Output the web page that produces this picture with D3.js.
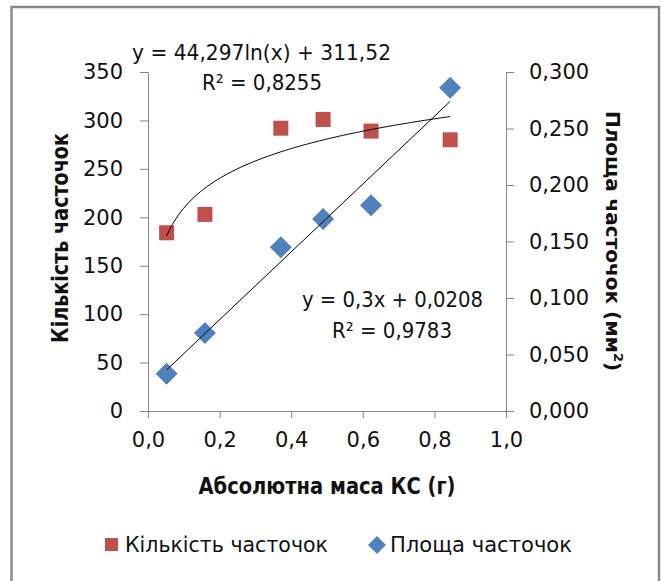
<!DOCTYPE html>
<html>
<head>
<meta charset="utf-8">
<script src="https://cdn.jsdelivr.net/npm/d3@7"></script>
<style>
  html, body { margin: 0; padding: 0; background: #fff; }
  svg { display: block; }
  text { font-family: "DejaVu Sans", sans-serif; fill: #111; }
</style>
</head>
<body>
<svg id="chart" width="661" height="581"></svg>
<script>
// ---- data ----
const massX      = [0.052, 0.159, 0.371, 0.489, 0.623, 0.844];
const countVals  = [184, 203, 292, 301, 289, 280];
const areaVals   = [0.033, 0.069, 0.145, 0.170, 0.182, 0.286];
const xTicks     = [0, 0.2, 0.4, 0.6, 0.8, 1.0];
const yLeftTicks = [0, 50, 100, 150, 200, 250, 300, 350];
const yRightTicks= [0, 0.05, 0.10, 0.15, 0.20, 0.25, 0.30];
const logCoef    = [44.297, 311.52];   // y = a ln(x) + b
const linCoef    = [0.3, 0.0208];      // y = a x + b
const eqLog      = ["y = 44,297ln(x) + 311,52", "R² = 0,8255"];
const eqLin      = ["y = 0,3x + 0,0208", "R² = 0,9783"];
const seriesNames= ["Кількість часточок", "Площа часточок"];
const xTitle     = "Абсолютна маса КС (г)";
const yLeftTitle = "Кількість часточок";
const yRightTitle= "Площа часточок (мм";

const svg = d3.select("#chart");
const comma = s => s.replace(".", ",");

// frame
svg.append("rect").attr("x", 11.5).attr("y", 7).attr("width", 647.5).attr("height", 600)
  .attr("fill", "#fff").attr("stroke", "#8a8a8a").attr("stroke-width", 2.5);

const x  = d3.scaleLinear().domain([0, 1]).range([148, 506]);
const yL = d3.scaleLinear().domain([0, 350]).range([411, 72]);
const yR = d3.scaleLinear().domain([0, 0.3]).range([411, 72]);

const axisColor = "#868686";
function styleAxis(g) {
  g.select(".domain").attr("stroke", axisColor);
  g.selectAll(".tick line").attr("stroke", axisColor);
  g.selectAll(".tick text").style("font-size", "21px").attr("fill", "#111")
    .attr("font-family", "DejaVu Sans");
}

svg.append("g").attr("transform", "translate(0,411)")
  .call(d3.axisBottom(x).tickValues(xTicks).tickSizeInner(7).tickSizeOuter(0).tickPadding(14)
        .tickFormat(d => comma(d3.format(".1f")(d))))
  .call(styleAxis);

svg.append("g").attr("transform", "translate(148,0)")
  .call(d3.axisLeft(yL).tickValues(yLeftTicks).tickSizeInner(8).tickSizeOuter(0).tickPadding(17)
        .tickFormat(d3.format("d")))
  .call(styleAxis);

svg.append("g").attr("transform", "translate(506,0)")
  .call(d3.axisRight(yR).tickValues(yRightTicks).tickSizeInner(8).tickSizeOuter(0).tickPadding(15)
        .tickFormat(d => comma(d3.format(".3f")(d))))
  .call(styleAxis);

// markers
const red = "#C0504D", blue = "#4F81BD";
const sq = 15, dm = 11;
svg.append("g").selectAll("rect").data(massX).join("rect")
  .attr("x", (d) => x(d) - sq / 2)
  .attr("y", (d, i) => yL(countVals[i]) - sq / 2)
  .attr("width", sq).attr("height", sq).attr("fill", red);

svg.append("g").selectAll("path").data(massX).join("path")
  .attr("d", (d, i) => {
    const cx = x(d), cy = yR(areaVals[i]);
    return `M${cx},${cy - dm}L${cx + dm},${cy}L${cx},${cy + dm}L${cx - dm},${cy}Z`;
  })
  .attr("fill", blue);

// trendlines
const xmin = d3.min(massX), xmax = d3.max(massX);
const samples = d3.range(0, 101).map(i => xmin + (xmax - xmin) * i / 100);
svg.append("path")
  .attr("d", d3.line().x(d => x(d)).y(d => yL(logCoef[0] * Math.log(d) + logCoef[1]))(samples))
  .attr("fill", "none").attr("stroke", "#000").attr("stroke-width", 1);
svg.append("path")
  .attr("d", d3.line().x(d => x(d)).y(d => yR(linCoef[0] * d + linCoef[1]))([xmin, xmax]))
  .attr("fill", "none").attr("stroke", "#000").attr("stroke-width", 1);

// equations
function label(txt, px, py, opts = {}) {
  const t = svg.append("text").attr("x", px).attr("y", py)
    .style("font-size", (opts.size || 21) + "px")
    .style("font-weight", opts.bold ? "bold" : "normal")
    .attr("text-anchor", opts.anchor || "start")
    .text(txt);
  if (opts.len) t.attr("textLength", opts.len).attr("lengthAdjust", "spacingAndGlyphs");
  if (opts.rot) t.attr("transform", `rotate(${opts.rot},${px},${py})`);
  return t;
}
label(eqLog[0], 132, 60, { size: 22, len: 259 });
label(eqLog[1], 202, 90, { size: 22, len: 120 });
label(eqLin[0], 302, 307, { size: 22, len: 181 });
label(eqLin[1], 332, 338, { size: 22, len: 120 });

// axis titles
label(xTitle, 327, 494, { bold: true, size: 23, anchor: "middle", len: 257 });
label(yLeftTitle, 68, 238, { bold: true, size: 23, anchor: "middle", len: 210, rot: -90 });
const rt = svg.append("text").attr("x", 606).attr("y", 241)
  .attr("text-anchor", "middle")
  .attr("transform", "rotate(90,606,241)")
  .style("font-size", "20px").style("font-weight", "bold");
rt.append("tspan").text(yRightTitle);
rt.append("tspan").attr("dy", -8).style("font-size", "13px").text("2");
rt.append("tspan").attr("dy", 8).text(")");

// legend
svg.append("rect").attr("x", 105).attr("y", 538).attr("width", 13).attr("height", 13).attr("fill", red);
label(seriesNames[0], 125, 552, { size: 22, len: 203 });
svg.append("path").attr("d", "M377,536L386,545L377,554L368,545Z").attr("fill", blue);
label(seriesNames[1], 390, 552, { size: 22, len: 182 });
</script>
</body>
</html>
